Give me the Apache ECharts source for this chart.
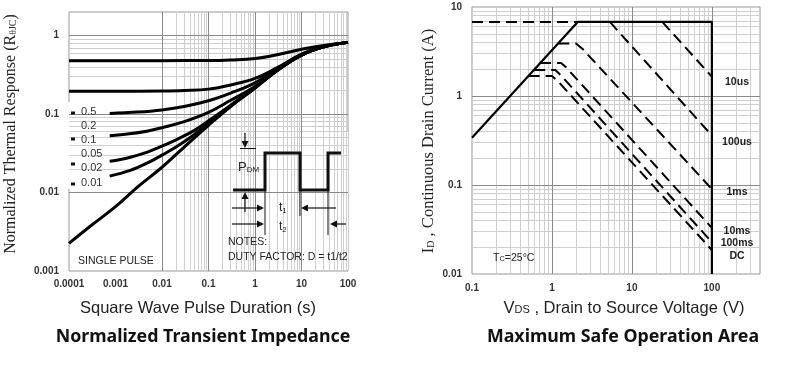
<!DOCTYPE html>
<html><head><meta charset="utf-8">
<script src="https://cdn.jsdelivr.net/npm/echarts@6/dist/echarts.min.js"></script>
<style>html,body{margin:0;padding:0;background:#fff}#c{width:793px;height:379px}</style>
</head><body><div id="c"></div>
<script>
// ---------- Left chart: Normalized Transient Impedance ----------
const zthXRange = [0.0001, 100];
const zthYRange = [0.001, 2];
const dutyLabels = ['0.5', '0.2', '0.1', '0.05', '0.02', '0.01'];
const zthD050 = [[0.0001,0.48],[0.001,0.48],[0.01,0.48],[0.1,0.482],[0.3,0.49],[1,0.51],[3,0.57],[10,0.67],[30,0.75],[100,0.82]];
const zthD020 = [[0.0001,0.195],[0.001,0.195],[0.01,0.197],[0.03,0.2],[0.1,0.208],[0.3,0.235],[1,0.285],[3,0.39],[10,0.58],[30,0.725],[100,0.82]];
const zthD010 = [[0.00075,0.102],[0.003,0.106],[0.01,0.113],[0.03,0.125],[0.1,0.148],[0.3,0.185],[1,0.25],[3,0.375],[10,0.57],[30,0.72],[100,0.82]];
const zthD005 = [[0.00075,0.053],[0.002,0.056],[0.005,0.061],[0.01,0.067],[0.03,0.08],[0.1,0.105],[0.3,0.15],[1,0.225],[3,0.365],[10,0.567],[30,0.72],[100,0.82]];
const zthD002 = [[0.00075,0.025],[0.002,0.028],[0.005,0.033],[0.01,0.039],[0.02,0.047],[0.05,0.062],[0.1,0.082],[0.3,0.13],[1,0.217],[3,0.362],[10,0.565],[30,0.72],[100,0.82]];
const zthD001 = [[0.00075,0.0162],[0.002,0.019],[0.005,0.024],[0.01,0.03],[0.02,0.038],[0.05,0.055],[0.1,0.076],[0.3,0.127],[1,0.215],[3,0.36],[10,0.565],[30,0.72],[100,0.82]];
const zthSingle = [[0.0001,0.00225],[0.0003,0.0038],[0.001,0.0066],[0.003,0.0118],[0.01,0.021],[0.03,0.038],[0.1,0.072],[0.3,0.125],[1,0.215],[3,0.36],[10,0.565],[30,0.72],[100,0.82]];

// ---------- Right chart: Maximum Safe Operation Area ----------
const soaXRange = [0.1, 400];
const soaYRange = [0.01, 10];
const soaLimit = [[0.1,0.34],[2.1,6.8],[100,6.8],[100,0.01]];
const soaTopDash = [[0.1,6.8],[2.1,6.8]];
const soa10us = [[24,6.8],[100,1.65]];
const soa100us = [[5.3,6.8],[100,0.36]];
const soa1ms = [[1.2,3.9],[2.0,3.9],[2.4,3.4],[100,0.09]];
const soa10ms = [[0.71,2.35],[1.3,2.35],[1.5,2.1],[100,0.033]];
const soa100ms = [[0.6,1.96],[1.1,1.96],[1.3,1.7],[100,0.0228]];
const soaDC = [[0.51,1.68],[1.0,1.68],[1.2,1.45],[100,0.0186]];
const soaLabels = ['10us', '100us', '1ms', '10ms', '100ms', 'DC'];

// ---------- helpers ----------
function logGrid(range) {
  const major = [], minor = [];
  const e0 = Math.floor(Math.log10(range[0])), e1 = Math.ceil(Math.log10(range[1]));
  for (let e = e0; e <= e1; e++) {
    for (let k = 1; k <= 9; k++) {
      const v = +(k * Math.pow(10, e)).toPrecision(3);
      if (v <= range[0] * 1.0001 || v >= range[1] * 0.9999) continue;
      (k === 1 ? major : minor).push(v);
    }
  }
  return { major, minor };
}
function gridMarks(xr, yr, majC, minC) {
  const gx = logGrid(xr), gy = logGrid(yr);
  const d = [];
  gx.minor.forEach(v => d.push({ xAxis: v, lineStyle: { color: minC, width: 1, type: 'solid' } }));
  gy.minor.forEach(v => d.push({ yAxis: v, lineStyle: { color: minC, width: 1, type: 'solid' } }));
  gx.major.forEach(v => d.push({ xAxis: v, lineStyle: { color: majC, width: 1, type: 'solid' } }));
  gy.major.forEach(v => d.push({ yAxis: v, lineStyle: { color: majC, width: 1, type: 'solid' } }));
  return d;
}
function decadeLabel(v) {
  const l = Math.log10(v);
  if (Math.abs(l - Math.round(l)) > 1e-6) return '';
  return String(Number(v.toPrecision(6)));
}
const tickFont = { fontFamily: 'Liberation Sans', fontWeight: 'bold', fontSize: 10, color: '#333' };

function curve(data, xi, opts) {
  return Object.assign({
    type: 'line', xAxisIndex: xi, yAxisIndex: xi, data: data, symbol: 'none',
    z: 5, silent: true, lineStyle: { color: '#000', width: 3 }
  }, opts || {});
}

// ---------- graphic annotations ----------
const G = [];
function T(x, y, text, font, align, extra) {
  G.push(Object.assign({ type: 'text', x: x, y: y, z: 20, silent: true,
    style: Object.assign({ text: text, font: font, fill: '#222', align: align || 'left', textAlign: align || 'left',
      verticalAlign: 'middle', textVerticalAlign: 'middle' }, extra || {}) }, {}));
}
function L(points, w) {
  G.push({ type: 'polyline', z: 20, silent: true, shape: { points: points }, style: { stroke: '#111', lineWidth: w || 1, fill: null } });
}
function Tri(points) {
  G.push({ type: 'polygon', z: 20, silent: true, shape: { points: points }, style: { fill: '#111' } });
}
// left legend white box
G.push({ type: 'rect', z: 3, silent: true, shape: { x: 68, y: 102, width: 40, height: 87 }, style: { fill: '#fff' } });
const legendYs = [112, 126, 140, 154, 168, 183];
dutyLabels.forEach((t, i) => T(81, legendYs[i], t, '11px "Liberation Sans"', 'left', { fill: '#333' }));
[113, 139, 164, 184].forEach(y => G.push({ type: 'rect', z: 20, silent: true, shape: { x: 71, y: y - 1.5, width: 4, height: 3 }, style: { fill: '#111' } }));
// inset white box
G.push({ type: 'rect', z: 3, silent: true, shape: { x: 228, y: 131, width: 120, height: 139 }, style: { fill: '#fff' } });
// pulse diagram
L([[233,190],[265,190],[265,153],[300,153],[300,190],[328,190],[328,153],[341,153]], 3);
L([[245,133],[245,144]], 1.2); Tri([[241.5,141],[248.5,141],[245,148]]);
L([[240,148.5],[256,148.5]], 1);
L([[245,196],[245,212]], 1.2); Tri([[241.5,199],[248.5,199],[245,192]]);
L([[265,190],[265,235]], 1); L([[300,190],[300,216]], 1); L([[328,190],[328,235]], 1);
L([[232,208],[260,208]], 1.2); Tri([[257,204.5],[257,211.5],[264,208]]);
L([[336,208],[305,208]], 1.2); Tri([[308,204.5],[308,211.5],[301,208]]);
L([[232,224],[260,224]], 1.2); Tri([[257,220.5],[257,227.5],[264,224]]);
L([[346,224],[334,224]], 1.2); Tri([[337,220.5],[337,227.5],[330,224]]);
T(238, 167, '{a|P}{b|DM}', '13px "Liberation Sans"', 'left', { rich: { a: { fontSize: 13, fontFamily: 'Liberation Sans', fill: '#222' }, b: { fontSize: 8, fontFamily: 'Liberation Sans', fill: '#222', padding: [5, 0, 0, 0] } } });
T(279, 208, '{a|t}{b|1}', '12px "Liberation Sans"', 'left', { rich: { a: { fontSize: 12, fontFamily: 'Liberation Sans', fill: '#222' }, b: { fontSize: 8, fontFamily: 'Liberation Sans', fill: '#222', padding: [5, 0, 0, 0] } } });
T(279, 227, '{a|t}{b|2}', '12px "Liberation Sans"', 'left', { rich: { a: { fontSize: 12, fontFamily: 'Liberation Sans', fill: '#222' }, b: { fontSize: 8, fontFamily: 'Liberation Sans', fill: '#222', padding: [5, 0, 0, 0] } } });
T(228, 242, 'NOTES:', '10.5px "Liberation Sans Narrow", "Liberation Sans"', 'left');
T(228, 257, 'DUTY FACTOR: D = t1/t2', '10.5px "Liberation Sans Narrow", "Liberation Sans"', 'left');
T(78, 261, 'SINGLE PULSE', '10.5px "Liberation Sans Narrow", "Liberation Sans"', 'left');
// axis names and titles (left)
G.push({ type: 'text', x: 11, y: 134, rotation: Math.PI / 2, z: 20, silent: true,
  style: { text: '{a|Normalized Thermal Response (R}{b|θJC}{a|)}', align: 'center', textAlign: 'center', verticalAlign: 'middle', textVerticalAlign: 'middle',
    rich: { a: { fontSize: 16, fontFamily: 'Liberation Serif', fill: '#222' }, b: { fontSize: 10, fontFamily: 'Liberation Serif', fill: '#222', padding: [5, 0, 0, 0] } } } });
T(198, 308, 'Square Wave Pulse Duration (s)', '16.5px "Liberation Sans"', 'center');
T(203, 337, 'Normalized Transient Impedance', 'bold 17.8px "Noto Sans"', 'center', { fill: '#111' });
// right chart labels
const soaLabelYs = [82, 142, 192, 231, 243, 256];
soaLabels.forEach((t, i) => T(737, soaLabelYs[i], t, 'bold 10.5px "Liberation Sans"', 'center', { fill: '#222' }));
T(493, 258, '{a|T}{b|C}{a|=25°C}', '10px "Liberation Sans"', 'left', { rich: { a: { fontSize: 10.5, fontFamily: 'Liberation Sans', fill: '#222' }, b: { fontSize: 7.5, fontFamily: 'Liberation Sans', fill: '#222', padding: [2, 0, 0, 0] } } });
G.push({ type: 'text', x: 429, y: 141, rotation: Math.PI / 2, z: 20, silent: true,
  style: { text: '{a|I}{b|D}{a| , Continuous Drain Current (A)}', align: 'center', textAlign: 'center', verticalAlign: 'middle', textVerticalAlign: 'middle',
    rich: { a: { fontSize: 16.5, fontFamily: 'Liberation Serif', fill: '#222' }, b: { fontSize: 10, fontFamily: 'Liberation Serif', fill: '#222', padding: [5, 0, 0, 0] } } } });
T(624, 308, '{a|V}{b|DS}{a| , Drain to Source Voltage (V)}', '16.5px "Liberation Sans"', 'center', { rich: { a: { fontSize: 16.5, fontFamily: 'Liberation Sans', fill: '#222' }, b: { fontSize: 11, fontFamily: 'Liberation Sans', fill: '#222', padding: [3, 0, 0, 0] } } });
T(623, 337, 'Maximum Safe Operation Area', 'bold 17.8px "Noto Sans"', 'center', { fill: '#111' });

const dashed = { color: '#000', width: 2, type: [11, 6] };

const option = {
  animation: false,
  backgroundColor: '#fff',
  grid: [
    { left: 69, right: 793 - 348, top: 12, bottom: 379 - 271, show: true, borderColor: '#999', borderWidth: 1, backgroundColor: 'transparent' },
    { left: 472, right: 793 - 760, top: 7, bottom: 379 - 274, show: true, borderColor: '#999', borderWidth: 1, backgroundColor: 'transparent' }
  ],
  xAxis: [
    { type: 'log', logBase: 10, gridIndex: 0, min: zthXRange[0], max: zthXRange[1], axisLine: { show: false }, axisTick: { show: false }, splitLine: { show: false },
      axisLabel: Object.assign({ formatter: decadeLabel, margin: 8, showMaxLabel: true, showMinLabel: true }, tickFont) },
    { type: 'log', logBase: 10, gridIndex: 1, min: soaXRange[0], max: soaXRange[1], axisLine: { show: false }, axisTick: { show: false }, splitLine: { show: false },
      axisLabel: Object.assign({ formatter: decadeLabel, margin: 9 }, tickFont) }
  ],
  yAxis: [
    { type: 'log', logBase: 10, gridIndex: 0, min: zthYRange[0], max: zthYRange[1], axisLine: { show: false }, axisTick: { show: false }, splitLine: { show: false },
      axisLabel: Object.assign({ formatter: decadeLabel, margin: 10 }, tickFont) },
    { type: 'log', logBase: 10, gridIndex: 1, min: soaYRange[0], max: soaYRange[1], axisLine: { show: false }, axisTick: { show: false }, splitLine: { show: false },
      axisLabel: Object.assign({ formatter: decadeLabel, margin: 10 }, tickFont) }
  ],
  graphic: { elements: G },
  series: [
    { type: 'line', xAxisIndex: 0, yAxisIndex: 0, data: [[1, 1]], symbol: 'none', z: 1, silent: true, lineStyle: { opacity: 0 },
      markLine: { silent: true, symbol: 'none', label: { show: false }, animation: false, data: gridMarks(zthXRange, zthYRange, '#8a8a8a', '#cfcfcf') } },
    { type: 'line', xAxisIndex: 1, yAxisIndex: 1, data: [[1, 1]], symbol: 'none', z: 1, silent: true, lineStyle: { opacity: 0 },
      markLine: { silent: true, symbol: 'none', label: { show: false }, animation: false, data: gridMarks(soaXRange, soaYRange, '#8a8a8a', '#cfcfcf') } },
    curve(zthD050, 0, { smooth: 0.4 }),
    curve(zthD020, 0, { smooth: 0.4 }),
    curve(zthD010, 0, { smooth: 0.4 }),
    curve(zthD005, 0, { smooth: 0.4 }),
    curve(zthD002, 0, { smooth: 0.4 }),
    curve(zthD001, 0, { smooth: 0.4 }),
    curve(zthSingle, 0, { smooth: 0.4 }),
    curve(soaLimit, 1, { lineStyle: { color: '#000', width: 2.2 } }),
    curve(soaTopDash, 1, { lineStyle: dashed }),
    curve(soa10us, 1, { lineStyle: dashed }),
    curve(soa100us, 1, { lineStyle: dashed }),
    curve(soa1ms, 1, { lineStyle: dashed }),
    curve(soa10ms, 1, { lineStyle: dashed }),
    curve(soa100ms, 1, { lineStyle: dashed }),
    curve(soaDC, 1, { lineStyle: dashed })
  ]
};
const chart = echarts.init(document.getElementById('c'), null, { renderer: 'canvas' });
chart.setOption(option);
</script>
</body></html>
